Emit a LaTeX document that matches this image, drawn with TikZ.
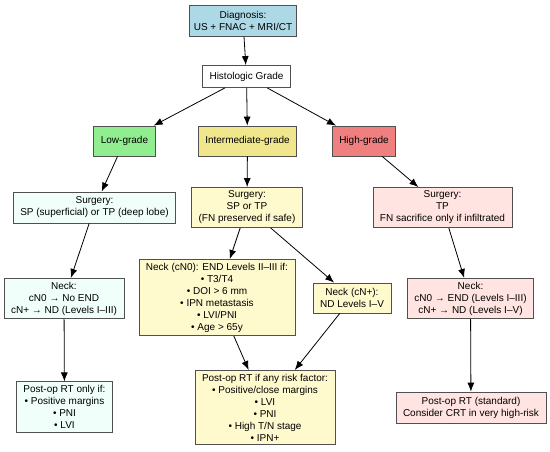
\documentclass[tikz,border=0pt]{standalone}
\usepackage{fontspec}
\setmainfont{Liberation Sans}
\usepackage{xcolor}
\definecolor{sky}{RGB}{173,216,230}
\definecolor{mint}{RGB}{144,238,144}
\definecolor{khaki}{RGB}{240,230,140}
\definecolor{coral}{RGB}{240,128,128}
\definecolor{frost}{RGB}{240,255,250}
\definecolor{lemon}{RGB}{255,250,205}
\definecolor{blush}{RGB}{255,228,225}
\definecolor{edge}{RGB}{80,80,80}
\usetikzlibrary{arrows.meta,positioning}
\tikzset{
  box/.style={draw=edge, line width=0.8pt, align=center,
              font=\fontsize{10}{12}\selectfont,
              inner xsep=7pt, inner ysep=3.5pt},
  grade/.style={box, minimum height=30pt},
  flow/.style={-{Latex[length=9pt,width=7pt]}, line width=0.8pt},
}

\begin{document}
\begin{tikzpicture}[x=1pt,y=-1pt]
  \useasboundingbox (0,0) rectangle (550,451);
  %% Diagnosis and grading
  \node[box,fill=sky,inner xsep=4pt,minimum height=31pt] (diag) at (243,20.5) {Diagnosis:\\US + FNAC + MRI/CT};
  \node[box,fill=white,minimum height=22pt] (hist) at (246.5,76.5) {Histologic Grade};
  %% Grades
  \node[grade,fill=mint]  (low)  at (124.5,141) {Low-grade};
  \node[grade,fill=khaki] (mid)  at (247.5,141) {Intermediate-grade};
  \node[grade,fill=coral] (high) at (364,141)   {High-grade};
  %% Low-grade branch
  \node[box,fill=frost,minimum height=31pt] (lowsurg) at (94.5,207.5) {Surgery:\\SP (superficial) or TP (deep lobe)};
  \node[box,fill=frost] (lowneck) at (64,298.5) {Neck:\\cN0 → No END\\cN+ → ND (Levels I–III)};
  \node[box,fill=frost] (lowrt)   at (64.5,407) {Post-op RT only if:\\• Positive margins\\• PNI\\• LVI};
  %% Intermediate-grade branch
  \node[box,fill=lemon] (midsurg) at (247,207.5) {Surgery:\\SP or TP\\(FN preserved if safe)};
  \node[box,fill=lemon] (midcn0)  at (217,297.5) {Neck (cN0): END Levels II–III if:\\• T3/T4\\• DOI > 6 mm\\• IPN metastasis\\• LVI/PNI\\• Age > 65y};
  \node[box,fill=lemon,minimum height=30pt] (midcnp)  at (352,298)   {Neck (cN+):\\ND Levels I–V};
  \node[box,fill=lemon] (midrt)   at (265,407.5) {Post-op RT if any risk factor:\\• Positive/close margins\\• LVI\\• PNI\\• High T/N stage\\• IPN+};
  %% High-grade branch
  \node[box,fill=blush] (highsurg) at (442.5,207.5) {Surgery:\\TP\\FN sacrifice only if infiltrated};
  \node[box,fill=blush] (highneck) at (470.5,298.5) {Neck:\\cN0 → END (Levels I–III)\\cN+ → ND (Levels I–V)};
  \node[box,fill=blush,minimum height=31pt] (highrt)   at (471,407.5)   {Post-op RT (standard)\\Consider CRT in very high-risk};
  %% Connectors
  \draw[flow] (diag) -- (hist);
  \draw[flow] (hist) -- (low);
  \draw[flow] (hist) -- (mid);
  \draw[flow] (hist) -- (high);
  \draw[flow] (low) -- (lowsurg);
  \draw[flow] (lowsurg) -- (lowneck);
  \draw[flow] (lowneck) -- (lowrt);
  \draw[flow] (mid) -- (midsurg);
  \draw[flow] (midsurg) -- (midcn0);
  \draw[flow] (midsurg) -- (midcnp);
  \draw[flow] (midcn0) -- (midrt);
  \draw[flow] (midcnp) -- (midrt);
  \draw[flow] (high) -- (highsurg);
  \draw[flow] (highsurg) -- (highneck);
  \draw[flow] (highneck) -- (highrt);
\end{tikzpicture}
\end{document}
